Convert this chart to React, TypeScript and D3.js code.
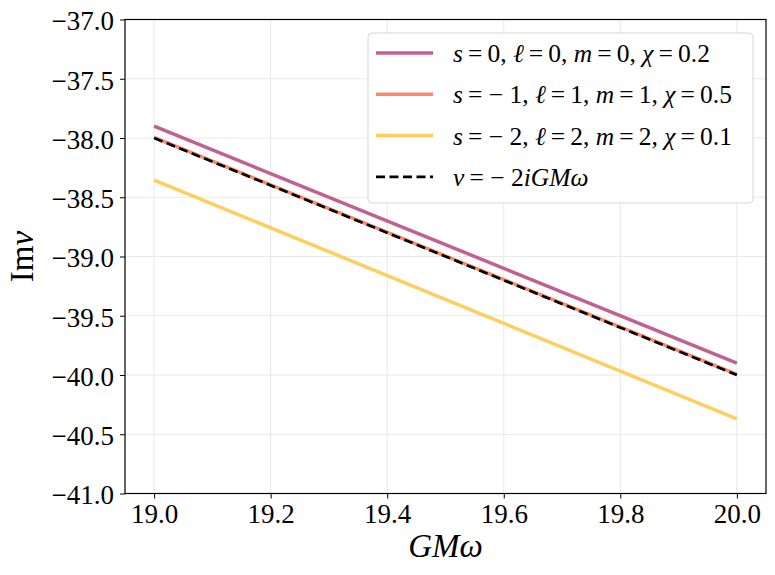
import { useEffect, useRef } from "react";
import * as d3 from "d3";

// endpoints (x = GMω, y = Im ν)
const xVals = [19.0, 20.0];
const seriesS0 = [-37.9, -39.9];
const seriesS1 = [-37.995, -39.995];
const seriesS2 = [-38.355, -40.37];
const seriesRef = [-38.0, -40.0];

const xTicks = [19.0, 19.2, 19.4, 19.6, 19.8, 20.0];
const yTicks = [-37.0, -37.5, -38.0, -38.5, -39.0, -39.5, -40.0, -40.5, -41.0];

type Part = { t: string; i?: boolean };

const TH = "\u2009";
const eq = (v: string) => `${TH}=${TH}${v}`;
const neg = (v: string) => ` \u2212 ${v}`;

const legendItems: { color: string; dash?: string; width: number; parts: Part[] }[] = [
  {
    color: "#c2608f",
    width: 3.5,
    parts: [
      { t: "s", i: true }, { t: eq("0, ") }, { t: "ℓ", i: true }, { t: eq("0, ") },
      { t: "m", i: true }, { t: eq("0, ") }, { t: "χ", i: true }, { t: eq("0.2") },
    ],
  },
  {
    color: "#fa8a6c",
    width: 3.5,
    parts: [
      { t: "s", i: true }, { t: `${TH}=${neg("1, ")}` }, { t: "ℓ", i: true }, { t: eq("1, ") },
      { t: "m", i: true }, { t: eq("1, ") }, { t: "χ", i: true }, { t: eq("0.5") },
    ],
  },
  {
    color: "#fecf5e",
    width: 3.5,
    parts: [
      { t: "s", i: true }, { t: `${TH}=${neg("2, ")}` }, { t: "ℓ", i: true }, { t: eq("2, ") },
      { t: "m", i: true }, { t: eq("2, ") }, { t: "χ", i: true }, { t: eq("0.1") },
    ],
  },
  {
    color: "#000000",
    dash: "9,4.5",
    width: 2.7,
    parts: [{ t: "ν", i: true }, { t: `${TH}=${neg("2")}` }, { t: "iGMω", i: true }],
  },
];

const FONT = "Liberation Serif, Times New Roman, serif";

export default function App() {
  const ref = useRef<SVGSVGElement>(null);

  useEffect(() => {
    document.body.style.margin = "0";
    const svg = d3.select(ref.current);
    svg.selectAll("*").remove();

    const W = 775;
    const H = 575;
    const m = { left: 125, right: 9, top: 19.5, bottom: 81.5 };

    const x = d3.scaleLinear().domain([18.95, 20.05]).range([m.left, W - m.right]);
    const y = d3.scaleLinear().domain([-41, -37]).range([H - m.bottom, m.top]);

    svg.append("rect").attr("width", W).attr("height", H).attr("fill", "#fff");

    // grid
    const grid = svg.append("g").attr("stroke", "#e3e3e3").attr("stroke-width", 0.8);
    grid.selectAll("line.gx").data(xTicks).join("line")
      .attr("x1", (d) => x(d)).attr("x2", (d) => x(d))
      .attr("y1", m.top).attr("y2", H - m.bottom);
    grid.selectAll("line.gy").data(yTicks).join("line")
      .attr("y1", (d) => y(d)).attr("y2", (d) => y(d))
      .attr("x1", m.left).attr("x2", W - m.right);

    const line = d3.line<[number, number]>().x((d) => x(d[0])).y((d) => y(d[1]));
    const series = [
      { v: seriesS0, c: legendItems[0].color, w: 3.5 },
      { v: seriesS1, c: legendItems[1].color, w: 3.5 },
      { v: seriesS2, c: legendItems[2].color, w: 3.5 },
    ];
    series.forEach((s) => {
      svg.append("path")
        .attr("d", line(xVals.map((xv, i) => [xv, s.v[i]] as [number, number])))
        .attr("fill", "none").attr("stroke", s.c).attr("stroke-width", s.w);
    });
    svg.append("path")
      .attr("d", line(xVals.map((xv, i) => [xv, seriesRef[i]] as [number, number])))
      .attr("fill", "none").attr("stroke", "#000").attr("stroke-width", legendItems[3].width)
      .attr("stroke-dasharray", legendItems[3].dash!);

    // axes
    const fmt = d3.format(".1f");
    const xAxis = svg.append("g").attr("transform", `translate(0,${H - m.bottom})`)
      .call(d3.axisBottom(x).tickValues(xTicks).tickFormat((d) => fmt(d as number)).tickSize(5).tickPadding(6));
    const yAxis = svg.append("g").attr("transform", `translate(${m.left},0)`)
      .call(d3.axisLeft(y).tickValues(yTicks).tickFormat((d) => fmt(d as number).replace("-", "\u2212")).tickSize(5).tickPadding(6));
    [xAxis, yAxis].forEach((a) => {
      a.attr("font-family", null).attr("font-size", null);
      a.select(".domain").remove();
      a.selectAll("line").attr("stroke", "#000").attr("stroke-width", 1);
      a.selectAll("text").style("font-family", FONT).style("font-size", "27px").attr("fill", "#000");
    });
    xAxis.selectAll("text").attr("dy", "0.7em");
    yAxis.selectAll("text").attr("dy", "0.38em");

    // frame
    svg.append("rect")
      .attr("x", m.left).attr("y", m.top)
      .attr("width", W - m.right - m.left).attr("height", H - m.bottom - m.top)
      .attr("fill", "none").attr("stroke", "#000").attr("stroke-width", 1.2);

    // axis labels
    svg.append("text")
      .attr("x", (m.left + W - m.right) / 2).attr("y", 557)
      .attr("text-anchor", "middle").style("font-family", FONT).style("font-size", "33px")
      .attr("font-style", "italic").text("GMω");
    const yl = svg.append("text")
      .attr("transform", `translate(33,${(m.top + H - m.bottom) / 2}) rotate(-90)`)
      .attr("text-anchor", "middle").style("font-family", FONT).style("font-size", "33px");
    yl.append("tspan").text("Im");
    yl.append("tspan").attr("font-style", "italic").text("ν");

    // legend
    const lg = svg.append("g");
    lg.append("rect")
      .attr("x", 368).attr("y", 33).attr("width", 385).attr("height", 170).attr("rx", 4)
      .attr("fill", "#fff").attr("fill-opacity", 0.85).attr("stroke", "#d6d6d6").attr("stroke-width", 1);
    legendItems.forEach((it, i) => {
      const cy = 53 + i * 41.3;
      lg.append("line").attr("x1", 376).attr("x2", 433).attr("y1", cy).attr("y2", cy)
        .attr("stroke", it.color).attr("stroke-width", it.width)
        .attr("stroke-dasharray", it.dash ?? null);
      const t = lg.append("text").attr("x", 453).attr("y", cy + 9)
        .style("font-family", FONT).style("font-size", "25.5px").attr("fill", "#000");
      it.parts.forEach((p) => {
        t.append("tspan").attr("font-style", p.i ? "italic" : "normal").text(p.t);
      });
    });
  }, []);

  return <svg ref={ref} width={775} height={575} style={{ display: "block" }} />;
}
